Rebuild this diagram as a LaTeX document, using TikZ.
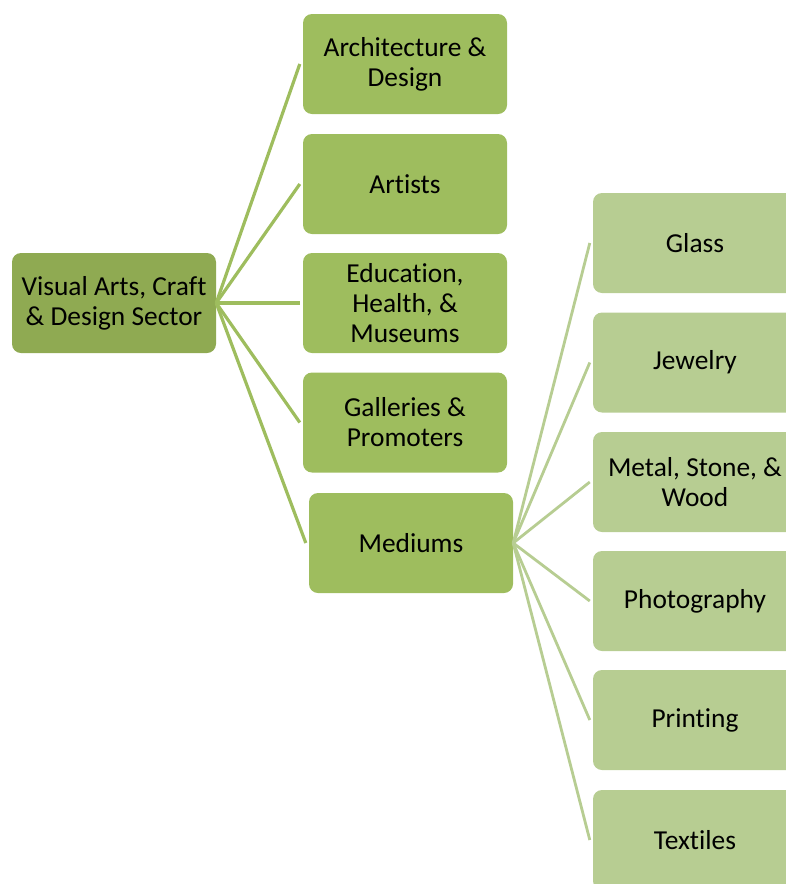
\documentclass[tikz,border=0pt]{standalone}
\usepackage{fontspec}
\setmainfont[RawFeature={-liga;-clig;-calt}]{Carlito}
\definecolor{rootgreen}{RGB}{143,170,82}
\definecolor{midgreen}{RGB}{158,189,94}
\definecolor{leafgreen}{RGB}{183,205,146}
\begin{document}
\begin{tikzpicture}[x=1pt,y=-1pt,
  box/.style={rounded corners=9pt, minimum width=204pt, minimum height=100pt,
    inner sep=0pt, align=center, font=\fontsize{27.4}{30}\selectfont},
  rootbox/.style={box, fill=rootgreen},
  midbox/.style={box, fill=midgreen},
  leafbox/.style={box, fill=leafgreen},
  midlink/.style={draw=midgreen, line width=3.2pt},
  leaflink/.style={draw=leafgreen, line width=2.8pt}]
\useasboundingbox (0,0) rectangle (786,884);

\node[rootbox] (root) at (114,303) {Visual Arts, Craft\\\& Design Sector};

\node[midbox] (arch) at (405,64) {Architecture \&\\Design};
\node[midbox] (art)  at (405,184) {Artists};
\node[midbox] (edu)  at (405,303) {Education,\\Health, \&\\Museums};
\node[midbox] (gal)  at (405,422.5) {Galleries \&\\Promoters};
\node[midbox] (med)  at (411,543) {Mediums};

\node[leafbox] (glass) at (695,243) {Glass};
\node[leafbox] (jew)   at (695,362.5) {Jewelry};
\node[leafbox] (metal) at (695,482) {Metal, Stone, \&\\Wood};
\node[leafbox] (photo) at (695,601) {Photography};
\node[leafbox] (print) at (695,720) {Printing};
\node[leafbox] (tex)   at (695,840) {Textiles};

% fan-out connectors from each parent's right edge
\foreach \c in {arch,art,edu,gal,med}
  \draw[midlink] (root.east) -- ([xshift=-3pt]\c.west);
\foreach \c in {glass,jew,metal,photo,print,tex}
  \draw[leaflink] (med.east) -- ([xshift=-3pt]\c.west);
\end{tikzpicture}
\end{document}
